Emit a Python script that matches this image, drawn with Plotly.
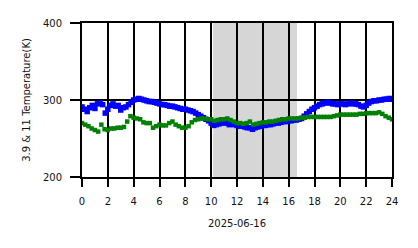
import numpy as np
import plotly.graph_objects as go

# 3.9 um brightness temperature (K), sampled every 0.2 h
blue_vals = [291,288,285,290,293,289,295,296,294,283,288,293,295,292,293,287,290,291,294,297,
             300,301,302,301,300,299,298,298,297,296,295,294,294,293,292,292,291,290,289,288,
             288,287,286,285,283,281,279,277,275,273,270,267,268,269,270,271,270,268,269,268,
             267,266,266,265,264,264,262,264,265,266,267,267,268,268,269,270,270,271,272,272,
             273,273,274,274,275,276,279,282,285,288,290,292,294,295,296,297,296,295,295,294,
             295,295,294,295,296,295,295,294,292,291,293,296,298,299,299,300,300,301,301,302,301]
# 11 um brightness temperature (K), sampled every 0.25 h
green_vals = [270,268,266,263,261,259,268,262,261,263,263,264,264,265,272,279,277,276,275,271,
              270,270,264,266,268,267,267,270,272,268,266,264,264,266,271,274,275,276,276,275,
              275,273,274,275,275,276,274,272,270,270,269,270,272,268,269,270,271,271,272,272,
              273,274,275,275,276,276,276,276,277,277,278,278,278,278,278,278,278,278,279,280,
              281,281,281,281,281,281,282,282,283,283,283,283,284,282,279,277,275]
blue_hours = np.linspace(0, 24, len(blue_vals))
green_hours = np.linspace(0, 24, len(green_vals))

x_ticks = list(range(0, 25, 2))
y_ticks = [200, 300, 400]
night_start, night_end = 10.15, 16.65
x_title = "2025-06-16"
y_title = "3.9 & 11 Temperature(K)"

fig = go.Figure()
fig.add_trace(go.Scatter(x=blue_hours, y=blue_vals, mode="markers",
                         marker=dict(symbol="square", size=5.5, color="#0000ff", line=dict(width=0)),
                         showlegend=False))
fig.add_trace(go.Scatter(x=green_hours, y=green_vals, mode="markers",
                         marker=dict(symbol="square", size=4.5, color="#008000", line=dict(width=0)),
                         showlegend=False))

fig.add_shape(type="rect", xref="x", yref="y", x0=night_start, x1=night_end, y0=200, y1=400,
              fillcolor="#d6d6d6", line=dict(width=0), layer="below")

axis_font = dict(family="DejaVu Sans", size=10, color="#111")
fig.update_layout(
    width=418, height=248,
    margin=dict(l=82, r=26, t=23, b=71),
    paper_bgcolor="white", plot_bgcolor="white",
    font=axis_font,
    xaxis=dict(range=[0, 24], tickvals=x_ticks, ticktext=[str(t) for t in x_ticks],
               showgrid=True, gridcolor="black", gridwidth=2, zeroline=False,
               ticks="outside", ticklen=8, tickwidth=2, tickcolor="black",
               showline=True, linecolor="black", linewidth=2, mirror=True,
               tickfont=axis_font, ticklabelstandoff=6,
               title=dict(text=x_title, font=axis_font, standoff=14)),
    yaxis=dict(range=[200, 400], tickvals=y_ticks,
               showgrid=True, gridcolor="black", gridwidth=2, zeroline=False,
               ticks="outside", ticklen=10, tickwidth=2, tickcolor="black",
               showline=True, linecolor="black", linewidth=2, mirror=True,
               tickfont=axis_font, ticklabelstandoff=6,
               title=dict(text=y_title, font=axis_font, standoff=10)),
)
fig.write_html("out.html")
